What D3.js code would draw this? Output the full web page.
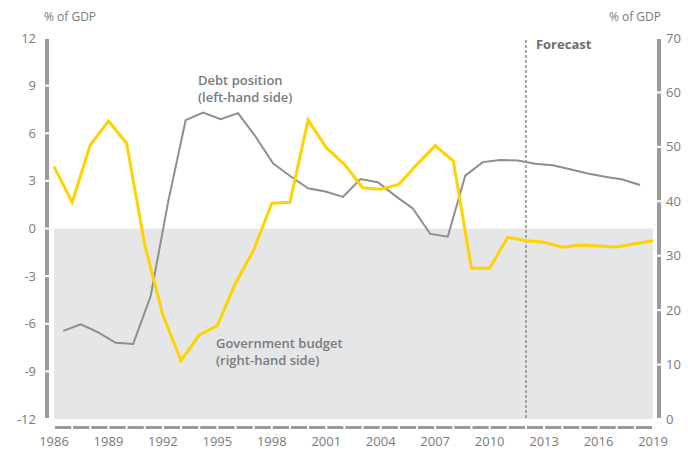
<!DOCTYPE html>
<html lang="en">
<head>
<meta charset="UTF-8">
<title>Government budget and debt position</title>
<script src="https://d3js.org/d3.v7.min.js"></script>
<style>
  body {
    margin: 0;
    background: #fff;
    font-family: "Open Sans", Arial, sans-serif;
  }
  .tick-label {
    font-size: 13px;
    fill: #7a7a7a;
  }
  .unit {
    font-size: 12px;
    fill: #7a7a7a;
  }
  .note {
    font-size: 13px;
    font-weight: 600;
    fill: #7a7a7a;
  }
</style>
</head>
<body>
<div id="chart"></div>
<script>

// ------ data ------
const years = d3.range(1986, 2020);

// government budget, % of GDP (left scale)
const budget = [3.9, 1.65, 5.26, 6.77, 5.37, -1.04, -5.45, -8.33, -6.71, -6.12,
  -3.45, -1.35, 1.59, 1.65, 6.83, 5.09, 4.04, 2.57, 2.47, 2.78,
  4.04, 5.22, 4.25, -2.51, -2.51, -0.55, -0.77, -0.87, -1.18, -1.04,
  -1.10, -1.17, -0.96, -0.77];

// debt position, % of GDP (right scale)
const debt = [16.2, 17.4, 15.9, 14.0, 13.8, 22.6, 39.9, 54.9, 56.3, 55.1,
  56.2, 51.9, 47.0, 44.6, 42.4, 41.8, 40.8, 44.1, 43.5, 41.0,
  38.7, 34.0, 33.5, 44.7, 47.2, 47.6, 47.5, 46.9, 46.6, 45.9,
  45.1, 44.5, 44.0, 43.0];

const leftTicks = [-12, -9, -6, -3, 0, 3, 6, 9, 12];
const rightTicks = [0, 10, 20, 30, 40, 50, 60, 70];
const yearTicks = d3.range(1986, 2020, 3);
const forecastYear = 2012;

// ------ chart ------
const width = 688, height = 450;
const x0 = 54, x1 = 653, yTop = 38, yBottom = 419;

const svg = d3.select("#chart").append("svg")
    .attr("width", width)
    .attr("height", height);

const x = d3.scaleLinear().domain([1986, 2019]).range([x0, x1]);
// the debt line sits on a slightly narrower category band in the original
const xDebt = d3.scaleLinear().domain([1986, 2019]).range([63.3, 640]);
const yL = d3.scaleLinear().domain([-12, 12]).range([yBottom, yTop]);
const yR = d3.scaleLinear().domain([0, 70]).range([yBottom, yTop]);

// grey area below zero
svg.append("rect")
    .attr("x", x0)
    .attr("y", yL(0))
    .attr("width", x1 - x0)
    .attr("height", yL(-12) - yL(0))
    .attr("fill", "#e5e6e8");

// segmented vertical axes
function axisBar(xPos, scale, ticks) {
  for (let i = 0; i < ticks.length - 1; i++) {
    const a = scale(ticks[i]), b = scale(ticks[i + 1]);
    svg.append("rect")
        .attr("x", xPos)
        .attr("y", Math.min(a, b) + 1)
        .attr("width", 4)
        .attr("height", Math.abs(a - b) - 2)
        .attr("fill", "#9a999e");
  }
}
axisBar(45, yL, leftTicks);
axisBar(657, yR, rightTicks);

svg.selectAll(".ltick")
  .data(leftTicks)
  .join("text")
    .attr("class", "tick-label")
    .attr("x", 36)
    .attr("y", d => yL(d))
    .attr("dy", "0.35em")
    .attr("text-anchor", "end")
    .text(d => d);

svg.selectAll(".rtick")
  .data(rightTicks)
  .join("text")
    .attr("class", "tick-label")
    .attr("x", 666)
    .attr("y", d => yR(d))
    .attr("dy", "0.35em")
    .text(d => d);

svg.append("text").attr("class", "unit").attr("x", 44).attr("y", 21).text("% of GDP");
svg.append("text").attr("class", "unit").attr("x", 661).attr("y", 21)
    .attr("text-anchor", "end").text("% of GDP");

// dashed x axis, one dash per year
svg.selectAll(".xdash")
  .data(years.slice(0, -1))
  .join("rect")
    .attr("x", d => x(d) + 1)
    .attr("y", 426)
    .attr("width", d => x(d + 1) - x(d) - 2)
    .attr("height", 3)
    .attr("fill", "#9a999e");

svg.selectAll(".xtick")
  .data(yearTicks)
  .join("text")
    .attr("class", "tick-label")
    .attr("x", d => x(d))
    .attr("y", 446)
    .attr("text-anchor", "middle")
    .text(d => d);

// forecast marker
svg.append("line")
    .attr("x1", x(forecastYear)).attr("x2", x(forecastYear))
    .attr("y1", 40).attr("y2", yBottom)
    .attr("stroke", "#8a8a8a")
    .attr("stroke-width", 1.5)
    .attr("stroke-dasharray", "3,2");

svg.append("text")
    .attr("x", x(forecastYear) + 10)
    .attr("y", 49)
    .style("font-size", "13px")
    .style("font-weight", 700)
    .attr("fill", "#6e6e6e")
    .text("Forecast");

// lines
svg.append("path")
    .datum(debt)
    .attr("fill", "none")
    .attr("stroke", "#8e8e8e")
    .attr("stroke-width", 2)
    .attr("d", d3.line().x((d, i) => xDebt(years[i])).y(d => yR(d)));

svg.append("path")
    .datum(budget)
    .attr("fill", "none")
    .attr("stroke", "#ffd200")
    .attr("stroke-width", 3)
    .attr("stroke-linejoin", "miter")
    .attr("d", d3.line().x((d, i) => x(years[i])).y(d => yL(d)));

// annotations
const notes = [
  { x: 198, y: 85, lines: ["Debt position", "(left-hand side)"] },
  { x: 216, y: 348, lines: ["Government budget", "(right-hand side)"] }
];
notes.forEach(n => {
  const t = svg.append("text").attr("class", "note").attr("x", n.x).attr("y", n.y);
  n.lines.forEach((l, i) => {
    t.append("tspan").attr("x", n.x).attr("dy", i ? 17 : 0).text(l);
  });
});

</script>
</body>
</html>
